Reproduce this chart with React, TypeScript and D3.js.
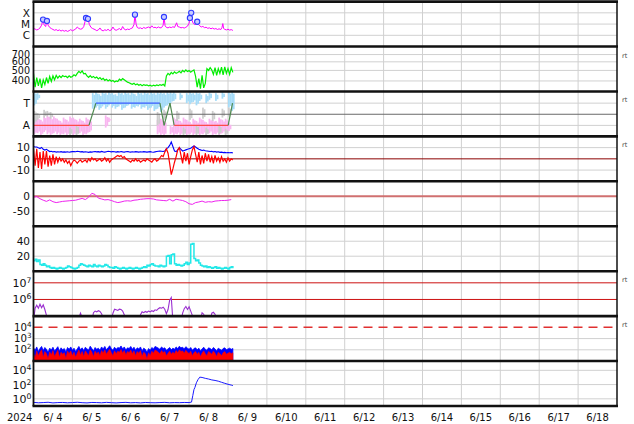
import React from "react";
import * as d3 from "d3";

// ---------------- data ----------------
const yearLabel = "2024";
const dayLabels = ["6/ 4", "6/ 5", "6/ 6", "6/ 7", "6/ 8", "6/ 9", "6/10", "6/11", "6/12", "6/13", "6/14", "6/15", "6/16", "6/17", "6/18"];

// X-ray flux, [hour since 6/4 00:00, flux in 1e-6 W/m2]
const xrayFluxE6: [number, number][] = [
  [0, 4.0], [1, 3.6], [2, 3.0], [3, 3.4], [4, 4.5], [5, 8], [5.9, 25], [6.5, 9], [7.5, 6], [8.3, 19], [9, 8], [10, 5],
  [11, 4], [12, 3.3], [13, 2.8], [14, 3.2], [15, 2.6], [16, 3.0], [17, 2.4], [18, 2.8], [19, 2.3], [20, 2.7], [21, 2.2],
  [22, 2.6], [23, 3.2], [24, 2.5], [25, 3.0], [26, 3.6], [27, 5.5], [28, 4.0], [29, 3.5], [30, 3.8], [31, 6], [32.4, 35],
  [33, 20], [33.6, 29], [34.5, 9], [35.5, 5], [36.5, 4], [38, 3.2], [39, 2.6], [40, 3.0], [41, 4.5], [42, 2.8], [43, 2.5],
  [44, 3.1], [45, 2.7], [46, 3.4], [47, 2.6], [48, 3.0], [49, 5.5], [50, 3.2], [51, 2.8], [52, 3.3], [53, 4.0], [54, 2.9],
  [55, 6.0], [56, 3.5], [57, 3.0], [58, 3.6], [59, 3.2], [60, 4.0], [61, 4.5], [62, 9], [62.6, 69], [63.3, 10], [64, 5],
  [65, 4.2], [66, 4.6], [67, 3.8], [68, 5.0], [69, 4.2], [70, 4.8], [71, 5.5], [72, 4.4], [73, 7], [74, 4.8], [75, 5.2],
  [76, 4.4], [77, 5.6], [78, 4.6], [79, 4.8], [80, 8], [80.5, 43], [81.2, 7], [82, 5], [83, 4.6], [84, 5.4], [85, 4.8],
  [86, 5.8], [87, 5.0], [88.3, 13], [89, 6], [90, 5.4], [91, 4.6], [92, 5.0], [93, 4.4], [94, 5.2], [95, 6.5], [96, 12],
  [96.5, 35], [96.9, 20], [97.3, 100], [97.8, 22], [98.5, 12], [99.3, 9], [100.2, 10], [101, 16], [101.8, 9], [102.6, 7],
  [103.5, 5.5], [104.5, 6.2], [105.5, 4.8], [106.5, 5.2], [107.5, 4.2], [108.5, 4.6], [109.5, 3.8], [110.5, 4.4],
  [111.5, 3.6], [112.5, 4.0], [113.5, 3.3], [114.5, 3.8], [115.5, 3.2], [116.3, 5], [116.8, 11], [117.3, 4], [118, 3.4],
  [119, 3.0], [120, 3.5], [121, 2.9], [122, 3.2], [123, 2.7],
];
const flarePeaksE6: [number, number][] = [
  [5.9, 25], [8.3, 19], [32.4, 35], [33.6, 29], [62.6, 69], [80.5, 43], [96.5, 35], [97.3, 100], [101, 16],
];

// solar wind speed, hourly from 6/4 00:00 (km/s)
const windSpeed = [
  470, 350, 430, 360, 420, 345, 410, 370, 430, 380,
  440, 395, 445, 410, 450, 425, 445, 430, 448, 438,
  442, 428, 446, 432, 440, 455, 445, 470, 490, 475,
  495, 465, 470, 445, 432, 448, 430, 440, 425, 435,
  418, 430, 412, 422, 405, 415, 400, 410, 398, 405,
  392, 400, 395, 415, 405, 420, 410, 400, 390, 385,
  378, 372, 380, 368, 375, 365, 372, 362, 370, 364,
  368, 360, 366, 358, 365, 360, 368, 362, 370, 365,
  372, 360, 445, 470, 455, 480, 465, 485, 470, 478,
  490, 475, 500, 485, 505, 488, 498, 482, 495, 505,
  440, 350, 420, 340, 450, 345, 380, 520, 500, 530,
  505, 460, 530, 450, 520, 470, 535, 455, 540, 470,
  520, 460, 530, 480,
];

// IMF sector (T = +1, A = -1), [hour, state]
const sectorLine: [number, number][] = [
  [0, -1], [34.2, -1], [38.5, 1], [78, 1], [80.6, -1], [84.2, 1], [86.8, -1], [120.1, -1], [122.8, 1],
];
// 2-hourly scatter ranges [lo, hi] in sector units
const towardBands: ([number, number] | null)[] = [
  [0.8, 2.0], [1.3, 1.9], null, null, null, null, null, null, null, null,
  null, null, null, null, null, null, null, null, [0.5, 1.9], [0.6, 2.0],
  [0.4, 1.8], [0.7, 2.0], [0.5, 1.9], [0.8, 2.0], [0.6, 1.9], [0.5, 1.8], [0.7, 2.0], [0.4, 1.9], [0.6, 2.0], [0.8, 1.9],
  [0.5, 2.0], [0.6, 1.8], [0.7, 2.0], [0.5, 1.9], [0.6, 2.0], [0.4, 1.9], [0.6, 2.0], [0.3, 1.9], [0.5, 2.0], [0.2, 2.0],
  [0.6, 1.9], [0.8, 2.0], [1.0, 2.0], [1.2, 2.0], null, [1.3, 1.9], null, [1.0, 1.9], [0.9, 2.0], [1.1, 1.9],
  [0.8, 2.0], [1.2, 1.9], null, [1.0, 1.8], [1.3, 2.0], null, [1.2, 1.9], null, [1.4, 2.0], null,
  [0.6, 2.0], [0.3, 2.0],
];
const awayBands: ([number, number] | null)[] = [
  [-1.8, -0.4], [-1.7, -0.3], [-1.9, -0.5], [-1.6, -0.2], [-1.8, -0.1], [-1.9, -0.3], [-1.7, -0.2], [-1.8, -0.4], [-1.9, -0.6], [-1.8, -0.3],
  [-1.9, -0.5], [-1.7, -0.2], [-1.9, -0.3], [-1.8, -0.5], [-1.7, -0.4], [-1.9, -0.6], [-1.8, -0.3], [-1.6, -0.5], null, null,
  null, null, [-1.2, -0.1], [-0.7, -0.3], null, null, null, null, null, null,
  null, null, null, null, null, null, null, null, [-1.8, -0.5], [-1.9, -0.4],
  [-1.9, -0.6], null, [-1.8, -1.0], [-1.9, -0.3], [-1.8, -0.4], [-1.9, -0.6], [-1.7, -0.3], [-1.9, -0.5], [-1.8, -0.7], [-1.9, -0.4],
  [-1.7, -0.6], [-1.9, -0.3], [-1.8, -0.5], [-1.9, -0.7], [-1.7, -0.4], [-1.9, -0.5], [-1.8, -0.6], [-1.9, -0.3], [-1.7, -0.5], [-1.8, -0.4],
  [-1.5, -0.8], null,
];
const grayBands: ([number, number] | null)[] = [
  [-0.8, 0.3], [-0.5, 0.1], null, [-0.3, 0.4], [-0.2, 0.3], [-0.4, 0.2], null, null, null, null,
  null, [-1.9, -1.2], null, [-1.9, -1.0], null, null, null, null, null, null,
  null, null, null, null, null, null, null, null, null, null,
  null, null, null, null, null, null, null, null, [-1.0, 0.2], null,
  [-0.5, 0.4], null, null, null, [-0.6, 0.3], null, [-1.9, -1.2], null, [-0.5, 0.5], null,
  [-1.9, -1.0], null, [-0.4, 0.6], [-1.9, -1.2], null, [-0.6, 0.3], null, [-1.8, -1.0], [-0.3, 0.5], [-1.9, -1.3],
  [-0.2, 0.6], null,
];

// IMF Bt and Bz, hourly (nT)
const imfBt = [
  11, 10.5, 10.5, 9.8, 9.2, 10.2, 8.5, 7.8, 8.5, 7.5,
  6.5, 6.8, 6.2, 6.5, 6.0, 6.3, 6.1, 6.4, 6.0, 6.2,
  6.0, 6.3, 5.9, 6.2, 6.4, 6.6, 6.3, 6.8, 6.5, 6.2,
  6.4, 6.0, 6.3, 6.1, 5.8, 6.2, 6.0, 6.3, 6.5, 6.2,
  6.4, 6.0, 6.6, 6.2, 6.0, 6.4, 6.8, 6.5, 6.2, 6.6,
  6.3, 6.0, 6.4, 6.1, 6.5, 6.2, 6.0, 6.3, 6.6, 6.2,
  6.0, 6.3, 6.1, 6.4, 6.2, 6.0, 6.3, 6.1, 6.4, 6.2,
  6.0, 6.2, 6.4, 6.1, 5.9, 6.2, 6.5, 6.8, 7.0, 6.8,
  6.5, 7.0, 9.0, 10, 12, 15, 11, 7, 6.5, 8,
  10, 8.5, 7.0, 7.5, 8.0, 8.5, 9.0, 9.5, 10.5, 11.5,
  10.5, 9.5, 8.5, 8.0, 7.5, 7.8, 7.2, 7.0, 6.8, 6.5,
  6.8, 6.2, 6.5, 6.0, 6.3, 5.8, 6.0, 5.6, 5.8, 5.5,
  5.7, 5.4, 5.6, 5.3,
];
const imfBz = [
  9, -6, 9, -8, 6, -9, 7, -5, 7, -7,
  3, -6, 4, -5, 2, -3, 1, -2, 0, -3,
  -1, -4, -2, -6, -3, -1, -2, -4, -2, -1,
  -3, -2, -1, -3, 0, -2, 1, -1, 0, -2,
  -1, 0, -2, -1, 1, -2, 0, -3, -1, 0,
  1, 2, 3, 2, 3, 1, 2, 0, -1, -2,
  -3, -1, -2, 0, -2, -1, -3, -2, -1, -2,
  0, -1, -2, -3, -1, 0, -2, -1, 1, 3,
  2, 6, 9, 5, -4, -14, -9, -3, 2, 8,
  10, 3, -4, 6, -2, 5, -5, 2, 8, 11,
  4, -3, 6, -5, 3, -4, 5, -2, 4, -3,
  2, -4, 3, -2, 1, -3, 2, -2, 0, -3,
  1, -2, 0, -1,
];

// Dst, every 2 hours (nT)
const dst2h = [
  -3, -1, -8, -13, -17, -12, -18, -21, -19, -17, -16, -15, -14, -13, -10, -7, -11, -3, 10, 6,
  -6, -9, -12, -11, -14, -18, -21, -19, -16, -15, -16, -13, -12, -10, -9, -8, -8, -9, -12, -13,
  -14, -15, -10, -16, -10, -12, -14, -18, -25, -27, -21, -19, -16, -20, -18, -19, -16, -15, -14, -14,
  -13, -11,
];

// cyan panel, hourly
const cyanSeries = [
  14, 16, 13, 15, 9, 8, 10, 8, 6, 7,
  5, 4, 5, 4, 3, 4, 5, 4, 3, 4,
  5, 7, 6, 5, 4, 3, 4, 5, 8, 10,
  9, 8, 7, 6, 8, 7, 6, 9, 7, 6,
  8, 7, 6, 7, 9, 8, 6, 5, 5, 4,
  6, 5, 4, 3, 4, 5, 4, 3, 4, 5,
  4, 3, 4, 5, 4, 3, 4, 5, 6, 5,
  8, 7, 9, 10, 8, 7, 7, 6, 8, 7,
  6, 7, 20, 21, 10, 22, 23, 10, 8, 9,
  8, 7, 8, 10, 12, 9, 11, 36, 37, 17,
  14, 15, 11, 8, 7, 6, 7, 5, 6, 5,
  4, 5, 6, 4, 5, 4, 3, 4, 5, 4,
  3, 5, 6, 4,
];

// electron fluence, hourly
const electronFlux = [
  5e4, 3.0e5, 4.5e5, 3.0e5, 5.2e5, 3.2e5, 4.8e5, 2.5e5, 1.1e5, 6e4,
  5e4, 5e4, 5e4, 5e4, 5e4, 5e4, 5e4, 5e4, 5e4, 5e4,
  5e4, 5e4, 5e4, 5e4, 5e4, 5e4, 5e4, 5e4, 8e4, 1.5e5,
  8e4, 5e4, 5e4, 5e4, 5e4, 5e4, 5e4, 1.6e5, 2.0e5, 1.8e5,
  2.1e5, 1.9e5, 1.4e5, 8e4, 5e4, 5e4, 5e4, 5e4, 5e4, 1.5e5,
  2.6e5, 2.4e5, 2.2e5, 2.6e5, 2.5e5, 2.0e5, 1.2e5, 6e4, 5e4, 5e4,
  5e4, 5e4, 5e4, 5e4, 5e4, 5e4, 1.2e5, 1.8e5, 1.6e5, 1.9e5,
  1.7e5, 2.0e5, 1.8e5, 2.1e5, 1.9e5, 2.4e5, 2.2e5, 2.8e5, 3.2e5, 3.0e5,
  3.4e5, 2.6e5, 1.4e5, 2.5e5, 9.0e5, 1.3e6, 5e4, 5e4, 5e4, 5e4,
  5e4, 5e4, 1.5e5, 2.8e5, 3.8e5, 2.5e5, 3.6e5, 2.0e5, 1.1e5, 6e4,
  5e4, 5e4, 5e4, 5e4, 1.6e5, 1.3e5, 6e4, 5e4, 5e4, 5e4,
  1.5e5, 1.7e5, 1.3e5, 6e4, 5e4, 5e4, 5e4, 5e4, 5e4, 5e4,
  5e4, 5e4, 5e4, 5e4,
];

// proton flux (two channels), hourly
const protonBlue = [
  150, 90, 180, 70, 130, 200, 85, 160, 110, 60,
  140, 95, 170, 80, 120, 190, 75, 150, 100, 130,
  65, 160, 110, 180, 90, 140, 70, 120, 200, 100,
  150, 85, 170, 120, 95, 210, 130, 80, 160, 110,
  140, 90, 180, 120, 200, 100, 150, 230, 130, 90,
  170, 110, 160, 140, 220, 120, 180, 95, 150, 130,
  200, 110, 170, 90, 150, 120, 180, 80, 140, 110,
  60, 130, 90, 160, 120, 200, 170, 140, 110, 180,
  130, 150, 90, 120, 160, 100, 140, 110, 180, 130,
  210, 150, 170, 120, 190, 140, 110, 160, 90, 130,
  150, 100, 140, 80, 120, 170, 110, 90, 150, 130,
  100, 160, 120, 80, 140, 110, 90, 130, 150, 100,
  120, 140, 110, 130,
];
const protonRed = [
  50, 20, 80, 30, 60, 100, 22, 70, 45, 16,
  65, 35, 85, 25, 50, 90, 22, 60, 40, 55,
  18, 75, 45, 80, 30, 60, 22, 50, 95, 35,
  70, 25, 80, 50, 30, 100, 60, 25, 75, 45,
  65, 30, 85, 50, 100, 40, 70, 110, 55, 30,
  80, 45, 75, 60, 105, 50, 85, 35, 70, 55,
  95, 45, 80, 30, 70, 50, 85, 25, 60, 45,
  15, 55, 30, 75, 50, 95, 80, 60, 45, 85,
  55, 70, 30, 50, 75, 40, 60, 45, 85, 55,
  100, 70, 80, 50, 90, 60, 45, 75, 30, 55,
  70, 40, 60, 25, 50, 80, 45, 30, 70, 55,
  40, 75, 50, 25, 60, 45, 30, 55, 70, 40,
  50, 60, 45, 55,
];

// bottom panel, [hour, value]
const bottomFlux: [number, number][] = [
  [0, 0.32], [3, 0.28], [6, 0.3], [9, 0.33], [12, 0.27], [15, 0.3], [18, 0.31], [21, 0.28], [24, 0.3], [27, 0.33],
  [30, 0.29], [33, 0.27], [36, 0.31], [39, 0.3], [42, 0.28], [45, 0.32], [48, 0.29], [51, 0.27], [54, 0.3], [57, 0.32],
  [60, 0.28], [63, 0.3], [66, 0.27], [69, 0.31], [72, 0.29], [75, 0.28], [78, 0.3], [81, 0.32], [84, 0.28], [87, 0.3],
  [90, 0.29], [93, 0.31], [96, 0.3], [97.5, 0.35], [98.3, 3], [99, 20], [99.6, 40], [100.5, 180], [101.5, 500],
  [102.6, 1100], [104, 1000], [106, 750], [108, 600], [110, 450], [112, 380], [114, 300], [116, 210], [118, 150],
  [120, 110], [122, 85], [123, 72],
];

// ---------------- layout ----------------
const W = 634;
const H = 424;
const X0 = 33.5;
const X1 = 617;
const TOP = 1.6;
const PH = 44.93;
const NP = 9;
const FONT = "DejaVu Sans, sans-serif";
const GRID = "#d0d0d0";

const xS = d3.scaleLinear().domain([0, 360]).range([X0, X1]);
const pTop = (i: number) => TOP + i * PH;
const pBot = (i: number) => TOP + (i + 1) * PH;

type Tick = { v: number; t: string; sup?: string };

export default function App() {
  const ys = [
    d3.scaleLog().domain([1e-7, 1e-3]).range([pBot(0), pTop(0)]),
    d3.scaleLog().domain([320, 830]).range([pBot(1), pTop(1)]),
    d3.scaleLinear().domain([-1.99, 2.05]).range([pBot(2), pTop(2)]),
    d3.scaleLinear().domain([-20, 20]).range([pBot(3), pTop(3)]),
    d3.scaleLinear().domain([-100, 50]).range([pBot(4), pTop(4)]),
    d3.scaleLinear().domain([0, 60]).range([pBot(5), pTop(5)]),
    d3.scaleLog().domain([1e5, 5e7]).range([pBot(6), pTop(6)]),
    d3.scaleLog().domain([10, 1e5]).range([pBot(7), pTop(7)]),
    d3.scaleLog().domain([0.1, 2e5]).range([pBot(8), pTop(8)]),
  ];

  const ticks: Tick[][] = [
    [{ v: 1e-4, t: "X" }, { v: 1e-5, t: "M" }, { v: 1e-6, t: "C" }],
    [700, 600, 500, 400].map((v) => ({ v, t: String(v) })),
    [{ v: 1, t: "T" }, { v: -1, t: "A" }],
    [{ v: 10, t: "10" }, { v: 0, t: "0" }, { v: -10, t: "-10" }],
    [{ v: 0, t: "0" }, { v: -50, t: "-50" }],
    [{ v: 40, t: "40" }, { v: 20, t: "20" }],
    [{ v: 1e7, t: "10", sup: "7" }, { v: 1e6, t: "10", sup: "6" }],
    [{ v: 1e4, t: "10", sup: "4" }, { v: 1e3, t: "10", sup: "3" }, { v: 1e2, t: "10", sup: "2" }],
    [{ v: 1e4, t: "10", sup: "4" }, { v: 1e2, t: "10", sup: "2" }, { v: 1, t: "10", sup: "0" }],
  ];
  const labelSize = [10.5, 9.6, 10.5, 10.5, 10.5, 10.5, 11, 10.2, 11];
  const grids: number[][] = [
    [1e-4, 1e-5, 1e-6],
    [700, 600, 500, 400],
    [1, -1],
    [10, -10],
    [-50],
    [40, 20],
    [],
    [1e3, 1e2],
    [1e4, 1e2, 1],
  ];
  const rtPanels = [1, 2, 3, 6, 7];

  const hourly = (y: d3.ScaleContinuousNumeric<number, number>) =>
    d3.line<number>().x((_, i) => xS(i)).y((d) => y(d));
  const pairs = (y: d3.ScaleContinuousNumeric<number, number>, k = 1) =>
    d3.line<[number, number]>().x((d) => xS(d[0])).y((d) => y(d[1] * k));

  const xrayPath = pairs(ys[0], 1e-6)(xrayFluxE6) || "";
  const speedPath = hourly(ys[1])(windSpeed) || "";
  const btPath = hourly(ys[3])(imfBt) || "";
  const bzPath = hourly(ys[3])(imfBz) || "";
  const dstPath = d3.line<number>().x((_, i) => xS(i * 2)).y((d) => ys[4](d))(dst2h) || "";
  const cyanPath = hourly(ys[5]).curve(d3.curveStepAfter)(cyanSeries) || "";
  const elecPath = hourly(ys[6])(electronFlux) || "";
  const areaGen = (vals: number[]) =>
    d3.area<number>().x((_, i) => xS(i)).y0(pBot(7)).y1((d) => ys[7](d))(vals) || "";
  const bottomPath = pairs(ys[8])(bottomFlux) || "";

  const bw = xS(2) - xS(0);
  const bands = (arr: ([number, number] | null)[], color: string, key: string) =>
    arr.map((b, i) =>
      b ? (
        <g key={key + i}>
          <rect x={xS(i * 2)} width={bw * 0.55} y={ys[2](b[1])} height={ys[2](b[0]) - ys[2](b[1])} fill={color} />
          <rect
            x={xS(i * 2) + bw * 0.5}
            width={bw * 0.55}
            y={ys[2](b[1] - 0.15)}
            height={Math.max(0, ys[2](b[0] + 0.15) - ys[2](b[1] - 0.15))}
            fill={color}
          />
        </g>
      ) : null
    );

  const sectorSegs = sectorLine.slice(1).map((p, i) => {
    const a = sectorLine[i];
    const color = a[1] === p[1] ? (p[1] > 0 ? "#3a5cff" : "#ff4a4a") : "#4f8a4f";
    return (
      <line key={"sec" + i} x1={xS(a[0])} y1={ys[2](a[1])} x2={xS(p[0])} y2={ys[2](p[1])} stroke={color} strokeWidth={1.2} />
    );
  });

  return (
    <svg width={W} height={H} style={{ position: "absolute", left: 0, top: 0, background: "#fff" }} fontFamily={FONT}>
      <defs>
        {ys.map((_, i) => (
          <clipPath id={"clip" + i} key={"c" + i}>
            <rect x={X0} y={pTop(i)} width={X1 - X0} height={PH} />
          </clipPath>
        ))}
      </defs>
      <rect x={0} y={0} width={W} height={H} fill="#fff" />

      {/* vertical day grid */}
      {d3.range(1, 15).map((d) => (
        <line key={"vg" + d} x1={xS(d * 24)} x2={xS(d * 24)} y1={pTop(0)} y2={pBot(8)} stroke={GRID} strokeWidth={1} />
      ))}
      {/* horizontal grids */}
      {grids.map((g, i) =>
        g.map((v) => (
          <line key={"hg" + i + "_" + v} x1={X0} x2={X1} y1={ys[i](v)} y2={ys[i](v)} stroke={GRID} strokeWidth={1} />
        ))
      )}

      {/* panel 1: X-ray */}
      <g clipPath="url(#clip0)">
        <path d={xrayPath} fill="none" stroke="#ff00ff" strokeWidth={1} />
        {flarePeaksE6.map((p, i) => (
          <circle key={"fl" + i} cx={xS(p[0])} cy={ys[0](p[1] * 1e-6)} r={2.6} fill="#c8ccff" stroke="#2f3cff" strokeWidth={1.1} />
        ))}
      </g>

      {/* panel 2: speed */}
      <g clipPath="url(#clip1)">
        <path d={speedPath} fill="none" stroke="#00ee00" strokeWidth={1.2} />
      </g>

      {/* panel 3: sector */}
      <g clipPath="url(#clip2)">
        {bands(towardBands, "#a6dcf8", "tw")}
        {bands(awayBands, "#f9b6f0", "aw")}
        {bands(grayBands, "#cdcdcd", "gr")}
        <line x1={X0} x2={X1} y1={ys[2](0)} y2={ys[2](0)} stroke="#6a6a6a" strokeWidth={1} />
        {sectorSegs}
      </g>

      {/* panel 4: IMF */}
      <g clipPath="url(#clip3)">
        <line x1={X0} x2={X1} y1={ys[3](0)} y2={ys[3](0)} stroke="#8b0000" strokeWidth={1} />
        <path d={btPath} fill="none" stroke="#0000ff" strokeWidth={1.1} />
        <path d={bzPath} fill="none" stroke="#ff0000" strokeWidth={1.2} />
      </g>

      {/* panel 5: Dst */}
      <g clipPath="url(#clip4)">
        <line x1={X0} x2={X1} y1={ys[4](0)} y2={ys[4](0)} stroke="#d07070" strokeWidth={2} />
        <path d={dstPath} fill="none" stroke="#ee22ee" strokeWidth={1} />
      </g>

      {/* panel 6: cyan */}
      <g clipPath="url(#clip5)">
        <path d={cyanPath} fill="none" stroke="#22e8e8" strokeWidth={1.5} />
      </g>

      {/* panel 7: electrons */}
      <g clipPath="url(#clip6)">
        <line x1={X0} x2={X1} y1={ys[6](1e7)} y2={ys[6](1e7)} stroke="#cc1010" strokeWidth={1} />
        <line x1={X0} x2={X1} y1={ys[6](1e6)} y2={ys[6](1e6)} stroke="#cc1010" strokeWidth={1} />
        <path d={elecPath} fill="none" stroke="#9a2fd0" strokeWidth={1.1} />
      </g>

      {/* panel 8: protons */}
      <g clipPath="url(#clip7)">
        <line x1={X0} x2={X1} y1={ys[7](1e4)} y2={ys[7](1e4)} stroke="#e03030" strokeWidth={1.5} strokeDasharray="9,6" />
        <path d={areaGen(protonBlue)} fill="#0000ff" stroke="#0000ff" strokeWidth={0.8} />
        <path d={areaGen(protonRed)} fill="#ff0000" stroke="#ff0000" strokeWidth={0.6} />
      </g>

      {/* panel 9 */}
      <g clipPath="url(#clip8)">
        <path d={bottomPath} fill="none" stroke="#1a1aff" strokeWidth={1} />
      </g>

      {/* frame: separators */}
      {d3.range(0, NP + 1).map((i) => (
        <line key={"sep" + i} x1={X0 - 1} x2={X1 + 1} y1={pTop(i)} y2={pTop(i)} stroke="#111" strokeWidth={2.6} />
      ))}
      <line x1={X0} x2={X0} y1={pTop(0)} y2={pBot(8)} stroke="#111" strokeWidth={1.8} />
      <line x1={X1} x2={X1} y1={pTop(0)} y2={pBot(8)} stroke="#111" strokeWidth={1.5} />

      {/* y tick labels */}
      {ticks.map((tl, i) =>
        tl.map((t) => (
          <text
            key={"yl" + i + "_" + t.v}
            x={t.sup ? 31.5 : 30}
            y={ys[i](t.v)}
            dy="0.36em"
            textAnchor="end"
            fontSize={labelSize[i]}
            fill="#111"
          >
            {t.t}
            {t.sup ? (
              <tspan dy={-4} fontSize={labelSize[i] * 0.7}>
                {t.sup}
              </tspan>
            ) : null}
          </text>
        ))
      )}

      {/* rt labels */}
      {rtPanels.map((i) => (
        <text key={"rt" + i} x={622} y={pTop(i) + 11} fontSize={6.5} fill="#444">
          rt
        </text>
      ))}

      {/* x labels */}
      <text x={7} y={421} fontSize={10} fill="#111">
        {yearLabel}
      </text>
      {dayLabels.map((l, i) => (
        <text key={"dl" + i} x={xS(12 + 24 * i)} y={421} fontSize={10} textAnchor="middle" fill="#111" style={{ whiteSpace: "pre" }}>
          {l}
        </text>
      ))}
    </svg>
  );
}
